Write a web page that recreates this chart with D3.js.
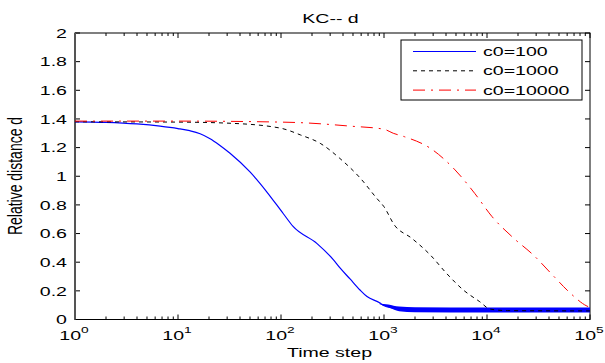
<!DOCTYPE html>
<html>
<head>
    <meta charset="utf-8">
    <title>KC-- d</title>
    <script src="https://d3js.org/d3.v7.min.js"></script>
    <style type="text/css">
        body { margin: 0; background: #fff; }
        text { font-family: "Liberation Sans", Arial, sans-serif; fill: #000; }
    </style>
</head>
<body>
    <script type="text/javascript">
        // values
        let stepsA = [1, 2, 4, 6.7, 10, 13, 16.4, 20.5, 25, 32, 50, 73, 105, 131, 224, 320, 374, 468, 585, 684, 915, 977, 1430, 2820, 100000];
        let distA  = [1.38, 1.376, 1.365, 1.35, 1.333, 1.318, 1.297, 1.262, 1.22, 1.16, 1.03, 0.89, 0.74, 0.65, 0.53, 0.42, 0.36, 0.283, 0.206, 0.16, 0.115, 0.10, 0.073, 0.066, 0.065];

        // thick part of the blue line (fast oscillation)
        let bandSteps = [900, 1100, 1400, 2000, 10000, 100000];
        let bandLow   = [0.108, 0.085, 0.058, 0.05, 0.048, 0.048];
        let bandHigh  = [0.112, 0.105, 0.09, 0.085, 0.083, 0.083];

        let stepsB = [1, 10, 32, 100, 155, 240, 372, 590, 850, 1000, 1260, 1860, 2820, 4070, 5890, 8510, 10700, 15800, 100000];
        let distB  = [1.38, 1.378, 1.37, 1.335, 1.288, 1.23, 1.125, 0.986, 0.846, 0.787, 0.66, 0.567, 0.45, 0.32, 0.206, 0.124, 0.073, 0.062, 0.06];

        let stepsC = [1, 10, 100, 155, 468, 1000, 1230, 1580, 2820, 4900, 7590, 11200, 18200, 28200, 44700, 64600, 93300, 100000];
        let distC  = [1.385, 1.385, 1.378, 1.374, 1.35, 1.328, 1.30, 1.276, 1.195, 1.044, 0.881, 0.718, 0.567, 0.45, 0.30, 0.183, 0.094, 0.085];

        let legendLabels = ["c0=100", "c0=1000", "c0=10000"];
        let yTicks = [0, 0.2, 0.4, 0.6, 0.8, 1, 1.2, 1.4, 1.6, 1.8, 2];
        let xDecades = [0, 1, 2, 3, 4, 5];

        let width = 605, height = 363;
        let mLeft = 75, mRight = 590, mTop = 33, mBottom = 319.5;
        let sx = 1.45;   // picture is stretched sideways, text too

        let svg = d3.select("body").append("svg")
            .attr("width", width)
            .attr("height", height);

        let x = d3.scaleLog().domain([1, 1e5]).range([mLeft, mRight]);
        let y = d3.scaleLinear().domain([0, 2]).range([mBottom, mTop]);

        function label(px, py, str, size, anchor) {
            return svg.append("text")
                .attr("transform", "translate(" + px + "," + py + ") scale(" + sx + ",1)")
                .attr("text-anchor", anchor || "start")
                .style("font-size", size + "px")
                .text(str);
        }

        // minor ticks on log axis
        let minor = [];
        xDecades.slice(0, -1).forEach(e => {
            for (let k = 2; k < 10; k++) minor.push(k * Math.pow(10, e));
        });
        let major = xDecades.map(e => Math.pow(10, e));

        let g = svg.append("g");

        // ticks (inward, bottom + top)
        [mBottom, mTop].forEach((yy, i) => {
            let dir = i === 0 ? -1 : 1;
            g.selectAll(null).data(minor).enter().append("line")
                .attr("x1", d => x(d)).attr("x2", d => x(d))
                .attr("y1", yy).attr("y2", yy + dir * 3)
                .attr("stroke", "#000").attr("stroke-width", 1);
            g.selectAll(null).data(major).enter().append("line")
                .attr("x1", d => x(d)).attr("x2", d => x(d))
                .attr("y1", yy).attr("y2", yy + dir * 5)
                .attr("stroke", "#000").attr("stroke-width", 1);
        });
        [mLeft, mRight].forEach((xx, i) => {
            let dir = i === 0 ? 1 : -1;
            g.selectAll(null).data(yTicks).enter().append("line")
                .attr("x1", xx).attr("x2", xx + dir * 5)
                .attr("y1", d => y(d)).attr("y2", d => y(d))
                .attr("stroke", "#000").attr("stroke-width", 1);
        });

        // frame
        g.append("rect")
            .attr("x", mLeft).attr("y", mTop)
            .attr("width", mRight - mLeft).attr("height", mBottom - mTop)
            .attr("fill", "none").attr("stroke", "#000").attr("stroke-width", 1);
        g.append("line")
            .attr("x1", mLeft).attr("x2", mLeft).attr("y1", mTop).attr("y2", mBottom)
            .attr("stroke", "#555").attr("stroke-width", 2);

        // y tick labels
        yTicks.forEach(d => label(mLeft - 8, y(d) + 4.7, d, 13.5, "end"));

        // x tick labels 10^n
        xDecades.forEach(d => {
            let t = label(x(Math.pow(10, d)) - 1, 340, "", 13.5, "middle");
            t.append("tspan").text("10");
            t.append("tspan").attr("dy", -7).style("font-size", "9.5px").text(d);
        });

        // series
        let line = d3.line().curve(d3.curveMonotoneX)
            .x(d => x(d[0])).y(d => y(d[1]));

        let band = d3.area().curve(d3.curveMonotoneX)
            .x(d => x(d[0])).y0(d => y(d[1])).y1(d => y(d[2]));
        svg.append("path")
            .attr("d", band(d3.zip(bandSteps, bandLow, bandHigh)))
            .attr("fill", "#0000ff");

        svg.append("path")
            .attr("d", line(d3.zip(stepsA, distA)))
            .attr("fill", "none").attr("stroke", "#0000ff").attr("stroke-width", 1.2);

        svg.append("path")
            .attr("d", line(d3.zip(stepsB, distB)))
            .attr("fill", "none").attr("stroke", "#000").attr("stroke-width", 1)
            .attr("stroke-dasharray", "4,4");

        svg.append("path")
            .attr("d", line(d3.zip(stepsC, distC)))
            .attr("fill", "none").attr("stroke", "#ff0000").attr("stroke-width", 1)
            .attr("stroke-dasharray", "12,6,2,6");

        // legend
        svg.append("rect")
            .attr("x", 401).attr("y", 40).attr("width", 181).attr("height", 60)
            .attr("fill", "#fff").attr("stroke", "#000").attr("stroke-width", 1);
        let styles = [
            { c: "#0000ff", d: null },
            { c: "#000", d: "4,4" },
            { c: "#ff0000", d: "12,6,2,6" }
        ];
        legendLabels.forEach((lab, i) => {
            let yy = 51.5 + i * 19.3;
            svg.append("line")
                .attr("x1", 413).attr("x2", 476).attr("y1", yy).attr("y2", yy)
                .attr("stroke", styles[i].c).attr("stroke-width", 1)
                .attr("stroke-dasharray", styles[i].d);
            label(483, yy + 4.6, lab, 13.5);
        });

        // titles
        label(330.5, 22.5, "KC-- d", 13.5, "middle");
        label(329.5, 357, "Time step", 13.5, "middle");
        svg.append("text")
            .attr("transform", "translate(21.5," + 176 + ") scale(" + sx + ",1) rotate(-90)")
            .attr("text-anchor", "middle")
            .style("font-size", "14px")
            .text("Relative distance d");
    </script>
</body>
</html>
